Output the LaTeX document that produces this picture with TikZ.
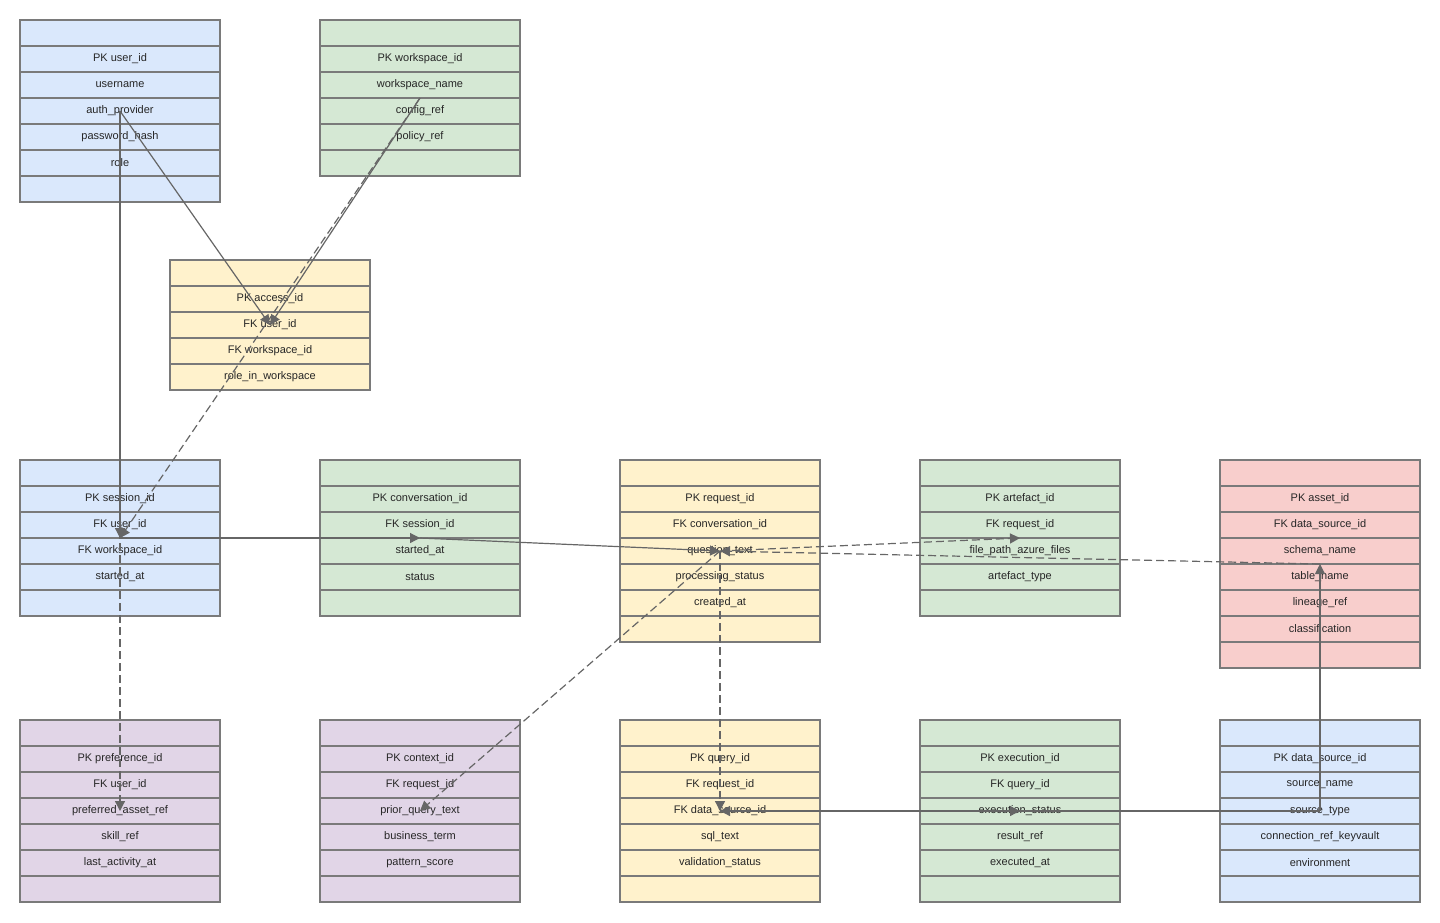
\documentclass[tikz,border=0pt]{standalone}
\usepackage{fontspec}
\setmainfont{Liberation Sans}
\usetikzlibrary{positioning,fit,arrows.meta}

\definecolor{eblue}{HTML}{DAE8FC}
\definecolor{egreen}{HTML}{D5E8D4}
\definecolor{eyellow}{HTML}{FFF2CC}
\definecolor{ered}{HTML}{F8CECC}
\definecolor{epurple}{HTML}{E1D5E7}
\definecolor{eline}{HTML}{7A7A7A}
\definecolor{elink}{HTML}{666666}

\tikzset{
  row/.style={draw=eline, line width=0.7pt, minimum width=100pt, minimum height=13pt,
    inner sep=0pt, outer sep=0pt, font=\fontsize{5.5}{6}\selectfont, text=black!85},
  fk/.style={draw=elink, line width=0.6pt, -{Triangle[length=5pt,width=5pt]}},
  weak/.style={fk, dash pattern=on 4pt off 2pt}
}

% name, left, top, fill, last row index, rows
\newcommand\erbox[6]{%
  \node[row, fill=#4, anchor=north west] (#1-0) at (#2,#3) {};
  \foreach \t [count=\i] in {#6} {
    \pgfmathtruncatemacro\j{\i-1}
    \node[row, fill=#4, below=0pt of #1-\j] (#1-\i) {\t};
  }
  \node[fit=(#1-0)(#1-#5), inner sep=0pt] (#1) {};
}

\begin{document}
\begin{tikzpicture}[x=0.5pt, y=-0.5pt]
\useasboundingbox (0,0) rectangle (1440,922);

% top
\erbox{user}{20}{20}{eblue}{6}{PK user\_id, username, auth\_provider, password\_hash, role, {}}
\erbox{ws}{320}{20}{egreen}{5}{PK workspace\_id, workspace\_name, config\_ref, policy\_ref, {}}
\erbox{access}{170}{260}{eyellow}{4}{PK access\_id, FK user\_id, FK workspace\_id, role\_in\_workspace}

% middle
\erbox{session}{20}{460}{eblue}{5}{PK session\_id, FK user\_id, FK workspace\_id, started\_at, {}}
\erbox{conv}{320}{460}{egreen}{5}{PK conversation\_id, FK session\_id, started\_at, status, {}}
\erbox{request}{620}{460}{eyellow}{6}{PK request\_id, FK conversation\_id, question\_text, processing\_status, created\_at, {}}
\erbox{artefact}{920}{460}{egreen}{5}{PK artefact\_id, FK request\_id, file\_path\_azure\_files, artefact\_type, {}}
\erbox{asset}{1220}{460}{ered}{7}{PK asset\_id, FK data\_source\_id, schema\_name, table\_name, lineage\_ref, classification, {}}

% bottom
\erbox{pref}{20}{720}{epurple}{6}{PK preference\_id, FK user\_id, preferred\_asset\_ref, skill\_ref, last\_activity\_at, {}}
\erbox{context}{320}{720}{epurple}{6}{PK context\_id, FK request\_id, prior\_query\_text, business\_term, pattern\_score, {}}
\erbox{query}{620}{720}{eyellow}{6}{PK query\_id, FK request\_id, FK data\_source\_id, sql\_text, validation\_status, {}}
\erbox{exec}{920}{720}{egreen}{6}{PK execution\_id, FK query\_id, execution\_status, result\_ref, executed\_at, {}}
\erbox{source}{1220}{720}{eblue}{6}{PK data\_source\_id, source\_name, source\_type, connection\_ref\_keyvault, environment, {}}

% links
\draw[fk] (user.center) -- (access.center);
\draw[fk] (user.center) -- (session.center);
\draw[weak] (user.center) -- (pref.center);
\draw[fk] (ws.center) -- (access.center);
\draw[weak] (ws.center) -- (session.center);
\draw[fk] (session.center) -- (conv.center);
\draw[fk] (conv.center) -- (request.center);
\draw[weak] (request.center) -- (artefact.center);
\draw[weak] (asset.center) -- (request.center);
\draw[weak] (request.center) -- (context.center);
\draw[weak] (request.center) -- (query.center);
\draw[fk] (query.center) -- (exec.center);
\draw[fk] (source.center) -- (query.center);
\draw[fk] (source.center) -- (asset.center);
\end{tikzpicture}
\end{document}
